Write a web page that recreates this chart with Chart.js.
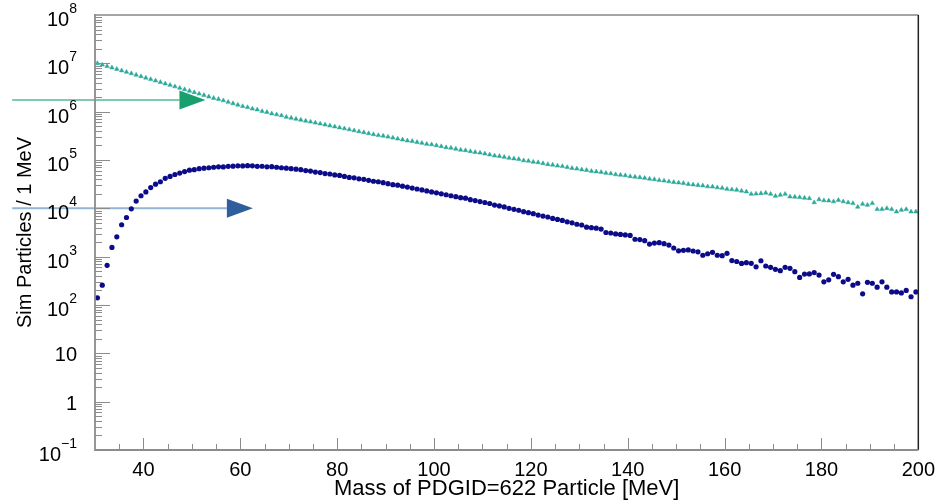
<!DOCTYPE html>
<html><head><meta charset="utf-8">
<script src="https://cdn.jsdelivr.net/npm/chart.js@4.4.1/dist/chart.umd.min.js"></script>
<style>html,body{margin:0;padding:0;background:#fff;}</style>
</head><body>
<canvas id="c" width="943" height="503"></canvas>
<script>
// Bin centres [MeV]
const massBins = [
30.5,31.5,32.5,33.5,34.5,35.5,36.5,37.5,38.5,39.5,
40.5,41.5,42.5,43.5,44.5,45.5,46.5,47.5,48.5,49.5,
50.5,51.5,52.5,53.5,54.5,55.5,56.5,57.5,58.5,59.5,
60.5,61.5,62.5,63.5,64.5,65.5,66.5,67.5,68.5,69.5,
70.5,71.5,72.5,73.5,74.5,75.5,76.5,77.5,78.5,79.5,
80.5,81.5,82.5,83.5,84.5,85.5,86.5,87.5,88.5,89.5,
90.5,91.5,92.5,93.5,94.5,95.5,96.5,97.5,98.5,99.5,
100.5,101.5,102.5,103.5,104.5,105.5,106.5,107.5,108.5,109.5,
110.5,111.5,112.5,113.5,114.5,115.5,116.5,117.5,118.5,119.5,
120.5,121.5,122.5,123.5,124.5,125.5,126.5,127.5,128.5,129.5,
130.5,131.5,132.5,133.5,134.5,135.5,136.5,137.5,138.5,139.5,
140.5,141.5,142.5,143.5,144.5,145.5,146.5,147.5,148.5,149.5,
150.5,151.5,152.5,153.5,154.5,155.5,156.5,157.5,158.5,159.5,
160.5,161.5,162.5,163.5,164.5,165.5,166.5,167.5,168.5,169.5,
170.5,171.5,172.5,173.5,174.5,175.5,176.5,177.5,178.5,179.5,
180.5,181.5,182.5,183.5,184.5,185.5,186.5,187.5,188.5,189.5,
190.5,191.5,192.5,193.5,194.5,195.5,196.5,197.5,198.5,199.5];

// Teal triangles (upper series)
const tealCounts = [
1.00e7,9.33e6,8.71e6,8.13e6,7.59e6,7.08e6,6.61e6,6.17e6,5.75e6,5.37e6,
5.01e6,4.68e6,4.37e6,4.07e6,3.80e6,3.55e6,3.31e6,3.09e6,2.88e6,2.69e6,
2.51e6,2.34e6,2.19e6,2.04e6,1.91e6,1.82e6,1.70e6,1.58e6,1.48e6,1.38e6,
1.29e6,1.23e6,1.15e6,1.10e6,1.02e6,9.77e5,9.12e5,8.71e5,8.32e5,7.76e5,
7.41e5,7.08e5,6.76e5,6.46e5,6.17e5,5.89e5,5.62e5,5.37e5,5.13e5,4.90e5,
4.68e5,4.47e5,4.27e5,4.07e5,3.89e5,3.72e5,3.55e5,3.39e5,3.24e5,3.16e5,
3.02e5,2.88e5,2.75e5,2.63e5,2.51e5,2.45e5,2.34e5,2.24e5,2.14e5,2.09e5,
2.00e5,1.91e5,1.82e5,1.78e5,1.70e5,1.62e5,1.58e5,1.51e5,1.45e5,1.41e5,
1.35e5,1.29e5,1.23e5,1.20e5,1.15e5,1.10e5,1.07e5,1.04e5,9.77e4,9.55e4,
9.12e4,8.91e4,8.51e4,8.13e4,7.94e4,7.59e4,7.41e4,7.08e4,6.76e4,6.61e4,
6.31e4,6.17e4,5.89e4,5.75e4,5.62e4,5.37e4,5.25e4,5.01e4,4.90e4,4.79e4,
4.57e4,4.47e4,4.37e4,4.23e4,4.07e4,3.98e4,3.80e4,3.72e4,3.58e4,3.47e4,
3.39e4,3.31e4,3.16e4,3.09e4,3.02e4,2.95e4,2.82e4,2.80e4,2.69e4,2.63e4,
2.51e4,2.45e4,2.40e4,2.30e4,2.21e4,1.98e4,2.00e4,2.04e4,2.09e4,1.98e4,
1.80e4,1.89e4,1.98e4,1.74e4,1.73e4,1.69e4,1.64e4,1.61e4,1.32e4,1.53e4,
1.45e4,1.44e4,1.38e4,1.48e4,1.38e4,1.32e4,1.27e4,1.07e4,1.23e4,1.17e4,
1.27e4,9.55e3,9.60e3,1.00e4,9.55e3,8.51e3,9.23e3,9.55e3,8.51e3,8.51e3];

// Dark blue circles (lower series)
const blueCounts = [
141,257,661,1550,2570,4570,6460,9770,14100,18200,
21900,26900,31600,35500,41700,45700,50100,53700,57500,61700,
63100,66100,67600,69200,70800,72400,72000,74100,74500,75900,
75500,76200,75800,74100,74300,72400,72800,70800,69200,67600,
66100,64600,63100,60300,58900,56200,55000,52500,51300,49000,
47900,45700,43700,42700,40700,39800,38000,36300,35500,33900,
32400,30900,30200,28800,27500,26300,25100,24000,22900,21900,
20900,20000,19100,18200,17400,16600,16200,15100,14500,13800,
13200,12600,11700,11200,10700,10000,9550,9120,8510,8130,
7760,7240,6920,6610,6170,5890,5620,5250,5010,4680,
4520,4070,3980,3890,3720,3160,3090,2950,2880,2820,
2750,2290,2260,2140,1820,1910,1950,1860,1740,1510,
1320,1350,1380,1310,1260,1070,1150,1230,1070,1050,
1170,832,794,724,750,728,617,824,641,603,
547,513,603,575,490,372,437,440,468,417,
302,331,432,385,302,339,257,282,170,295,
282,234,302,234,186,186,178,200,148,186];

const xTickValues = [40,60,80,100,120,140,160,180,200];
const xMinorStep = 5;
const yTickValues = [1e-1,1,10,1e2,1e3,1e4,1e5,1e6,1e7,1e8];
const yTickBase = ['10','1','10','10','10','10','10','10','10','10'];
const yTickExp  = ['\u22121','','','2','3','4','5','6','7','8'];

// Arrow annotations: level (y value), start and tip (x values)
const arrowLevels = [1.75e6, 1e4];
const arrowStart  = [12.9, 12.9];
const arrowTip    = [52.8, 62.6];
const arrowLineColors = ['#7fc9b3', '#93b5d6'];
const arrowHeadColors = ['#17a06e', '#2e5f9c'];

const FONT = "'Liberation Sans', Arial, sans-serif";

const decor = {
  id: 'decor',
  beforeDatasetsDraw(chart) {
    const {ctx, scales:{x, y}} = chart;
    ctx.save();
    for (let i = 0; i < arrowLevels.length; i++) {
      const py = y.getPixelForValue(arrowLevels[i]);
      const x0 = x.getPixelForValue(arrowStart[i]);
      const x1 = x.getPixelForValue(arrowTip[i]);
      const hl = 26, hh = 9.5;
      ctx.strokeStyle = arrowLineColors[i];
      ctx.lineWidth = 2;
      ctx.beginPath(); ctx.moveTo(x0, py); ctx.lineTo(x1 - hl, py); ctx.stroke();
      ctx.fillStyle = arrowHeadColors[i];
      ctx.beginPath(); ctx.moveTo(x1 - hl, py - hh); ctx.lineTo(x1, py); ctx.lineTo(x1 - hl, py + hh); ctx.closePath(); ctx.fill();
    }
    ctx.restore();
  },
  afterDraw(chart) {
    const {ctx, chartArea:a, scales:{x, y}} = chart;
    ctx.save();
    // frame
    ctx.lineWidth = 2;
    ctx.strokeStyle = '#a5a5a5';
    ctx.beginPath(); ctx.moveTo(a.left, a.top); ctx.lineTo(a.right, a.top); ctx.stroke();
    ctx.strokeStyle = '#222';
    ctx.lineWidth = 1.5;
    ctx.beginPath(); ctx.moveTo(a.right, a.top); ctx.lineTo(a.right, a.bottom); ctx.stroke();
    ctx.strokeStyle = '#8c8c8c';
    ctx.lineWidth = 1.8;
    ctx.beginPath(); ctx.moveTo(a.left, a.top - 1); ctx.lineTo(a.left, a.bottom); ctx.lineTo(a.right, a.bottom); ctx.stroke();
    // y ticks (major + minor), inside
    ctx.lineWidth = 1;
    ctx.strokeStyle = '#8c8c8c';
    for (let d = 0; d < yTickValues.length; d++) {
      const v = yTickValues[d];
      const py = Math.round(y.getPixelForValue(v)) + 0.5;
      if (d > 0 && d < yTickValues.length - 1) {
        ctx.beginPath(); ctx.moveTo(a.left, py); ctx.lineTo(a.left + 15, py); ctx.stroke();
      }
      if (d < yTickValues.length - 1) {
        for (let k = 2; k <= 9; k++) {
          const pm = Math.round(y.getPixelForValue(v * k)) + 0.5;
          ctx.beginPath(); ctx.moveTo(a.left, pm); ctx.lineTo(a.left + 7, pm); ctx.stroke();
        }
      }
    }
    // x ticks
    for (let v = x.min + xMinorStep; v < x.max; v += xMinorStep) {
      const px = Math.round(x.getPixelForValue(v)) + 0.5;
      const len = xTickValues.includes(v) ? 12 : 6;
      ctx.beginPath(); ctx.moveTo(px, a.bottom); ctx.lineTo(px, a.bottom - len); ctx.stroke();
    }
    // y tick labels with superscripts
    ctx.fillStyle = '#000';
    ctx.textAlign = 'right';
    ctx.textBaseline = 'alphabetic';
    const rightEdge = a.left - 18;
    for (let d = 0; d < yTickValues.length; d++) {
      const py = y.getPixelForValue(yTickValues[d]);
      const ex = yTickExp[d];
      if (ex) {
        ctx.font = '14px ' + FONT;
        const ew = ctx.measureText(ex).width;
        ctx.fillText(ex, rightEdge, py - 2);
        ctx.font = '20px ' + FONT;
        ctx.fillText(yTickBase[d], rightEdge - ew, py + 11);
      } else {
        ctx.font = '20px ' + FONT;
        ctx.fillText(yTickBase[d], rightEdge, py + 8);
      }
    }
    ctx.restore();
  }
};

new Chart(document.getElementById('c'), {
  type: 'scatter',
  data: {
    datasets: [
      { label: 'teal', data: massBins.map((m, i) => ({x: m, y: tealCounts[i]})),
        pointStyle: 'triangle', pointRadius: 2.6, backgroundColor: '#2aa999', borderColor: '#2aa999', borderWidth: 0.5 },
      { label: 'blue', data: massBins.map((m, i) => ({x: m, y: blueCounts[i]})),
        pointStyle: 'circle', pointRadius: 2.6, backgroundColor: '#0c0c8a', borderColor: '#0c0c8a', borderWidth: 0 }
    ]
  },
  options: {
    responsive: false, animation: false, devicePixelRatio: 1,
    layout: { padding: { left: 0, right: 23, top: 15, bottom: 0 } },
    plugins: { legend: { display: false }, tooltip: { enabled: false } },
    scales: {
      x: {
        type: 'linear', min: 30, max: 200, position: 'bottom',
        grid: { display: false, drawTicks: false }, border: { display: false },
        afterBuildTicks: s => { s.ticks = xTickValues.map(v => ({value: v})); },
        afterFit: s => { s.height = 53; },
        ticks: { padding: 8, autoSkip: false, maxRotation: 0, color: '#000',
                 font: { family: FONT, size: 20 }, callback: v => String(v) },
        title: { display: true, text: 'Mass of PDGID=622 Particle [MeV]', color: '#000',
                 font: { family: FONT, size: 22 }, padding: { top: 0, bottom: 1 } }
      },
      y: {
        type: 'logarithmic', min: 0.1, max: 1e8, position: 'left',
        grid: { display: false, drawTicks: false }, border: { display: false },
        ticks: { display: false },
        afterBuildTicks: s => { s.ticks = yTickValues.map(v => ({value: v})); },
        afterFit: s => { s.width = 95; },
        title: { display: true, text: 'Sim Particles / 1 MeV', color: '#000',
                 font: { family: FONT, size: 20 }, padding: { top: 13, bottom: 0 } }
      }
    }
  },
  plugins: [decor]
});
</script>
</body></html>
